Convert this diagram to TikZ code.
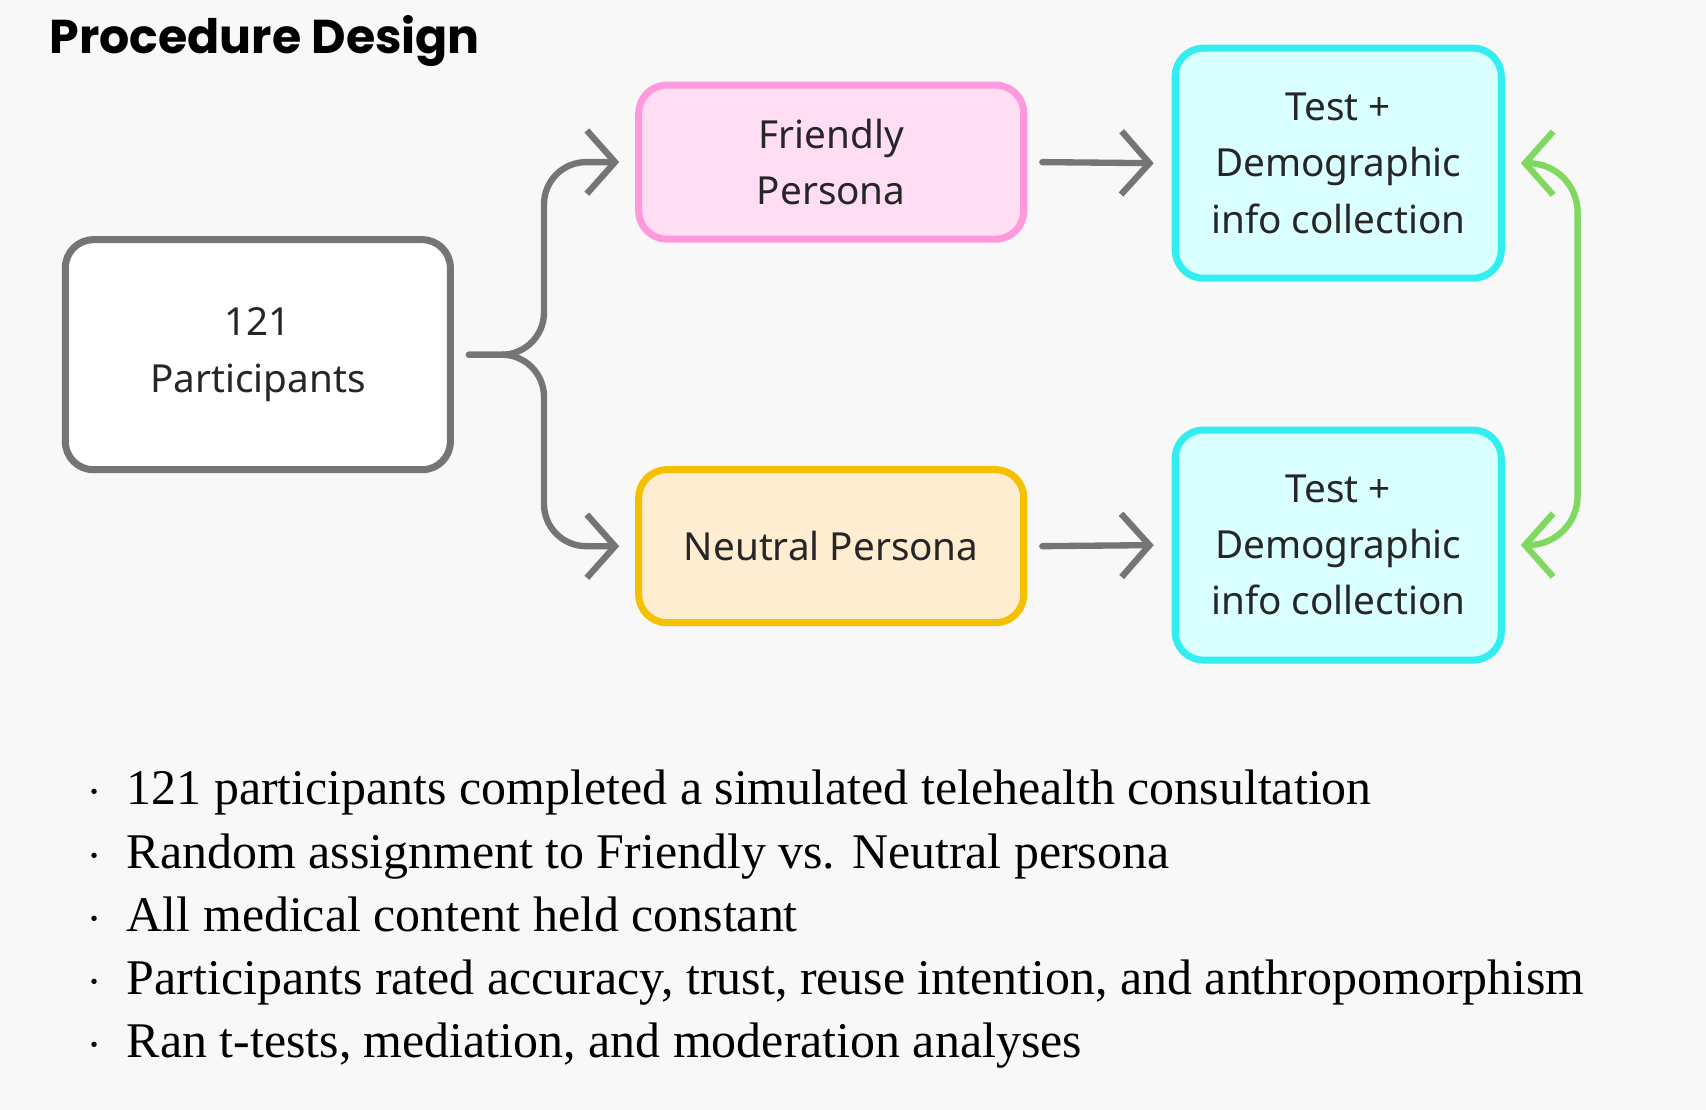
\documentclass[tikz,border=0pt]{standalone}
\usepackage{fontspec}
\setmainfont{Liberation Serif}
\setsansfont{Noto Sans}
\newfontfamily\titlefont{Poppins}
\usetikzlibrary{arrows.meta}
\definecolor{bgc}{HTML}{F8F8F8}
\definecolor{boxgray}{HTML}{757575}
\definecolor{pinkfill}{HTML}{FFDEF4}
\definecolor{pinkline}{HTML}{FF99DD}
\definecolor{orfill}{HTML}{FFEDD1}
\definecolor{orline}{HTML}{F5C000}
\definecolor{cyfill}{HTML}{DAFFFF}
\definecolor{cyline}{HTML}{33EEF0}
\definecolor{grline}{HTML}{80D860}
\tikzset{
  stage/.style={draw, rounded corners=8pt, line width=2pt, align=center,
    font=\sffamily\fontsize{11}{16}\selectfont, text=black!85, inner sep=0pt},
  barb/.tip={Straight Barb[length=8pt,width=18pt,line width=1.8pt]},
  flow/.style={line width=1.8pt, draw=boxgray, -barb},
  bullet/.style={anchor=base west, font=\fontsize{14.2}{16}\selectfont, inner sep=0pt}
}
\begin{document}
\begin{tikzpicture}[x=0.01088cm, y=-0.01088cm, line cap=round, line join=round]
    \fill[bgc] (0,0) rectangle (1568,1020);
    \useasboundingbox (0,0) rectangle (1568,1020);

    % title
    \node[anchor=west, font=\titlefont\bfseries\fontsize{13.5}{16}\selectfont, inner sep=0pt] (title) at (45,38) {Procedure Design};

    % boxes
    \node[stage, draw=boxgray, fill=white, minimum width=3.85cm, minimum height=2.3cm] (part) at (237,326) {121\\Participants};
    \node[stage, draw=pinkline, fill=pinkfill, minimum width=3.85cm, minimum height=1.54cm] (friendly) at (764,149) {Friendly\\Persona};
    \node[stage, draw=orline, fill=orfill, minimum width=3.85cm, minimum height=1.53cm] (neutral) at (764,502) {Neutral Persona};
    \node[stage, draw=cyline, fill=cyfill, minimum width=3.26cm, minimum height=2.3cm] (testA) at (1230,150) {Test +\\Demographic\\info collection};
    \node[stage, draw=cyline, fill=cyfill, minimum width=3.26cm, minimum height=2.3cm] (testB) at (1230,501) {Test +\\Demographic\\info collection};

    % connectors
    \coordinate (split) at ([xshift=0.15cm]part.east);
    \coordinate (bend) at (500,326);
    \draw[flow, rounded corners=12pt] (split) -- (bend) |- ([xshift=-0.16cm]friendly.west);
    \draw[flow, rounded corners=12pt] (split) -- (bend) |- ([xshift=-0.16cm]neutral.west);
    \draw[flow] ([xshift=0.15cm]friendly.east) -- ([xshift=-0.18cm]testA.west);
    \draw[flow] ([xshift=0.15cm]neutral.east) -- ([xshift=-0.18cm]testB.west);
    \coordinate (loop) at (1450,326);
    \draw[flow, draw=grline, rounded corners=14pt, barb-barb]
        ([xshift=0.16cm]testA.east) -| (loop) |- ([xshift=0.16cm]testB.east);

    % bullet list
    \foreach \y/\txt in {727/{121 participants completed a simulated telehealth consultation},
                         786/{Random assignment to Friendly vs. Neutral persona},
                         844/{All medical content held constant},
                         902/{Participants rated accuracy, trust, reuse intention, and anthropomorphism},
                         960/{Ran t-tests, mediation, and moderation analyses}} {
        \node[bullet] at (80,\y+12) {$\cdot$};
        \node[bullet] at (116,\y+12) {\txt};
    }
\end{tikzpicture}
\end{document}
